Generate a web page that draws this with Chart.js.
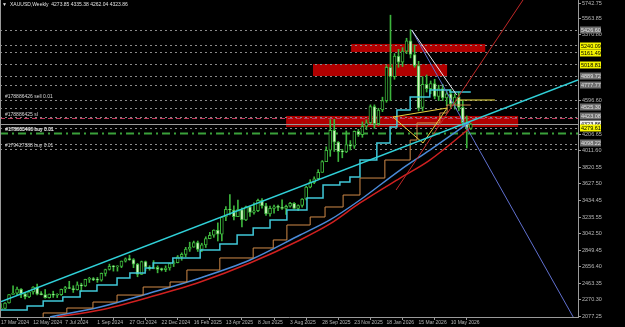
<!DOCTYPE html>
<html>
<head>
<meta charset="utf-8">
<script src="https://cdn.jsdelivr.net/npm/chart.js@4.4.1/dist/chart.umd.min.js"></script>
<style>
html, body { margin: 0; padding: 0; background: #000; }
#wrap { width: 625px; height: 327px; }
</style>
</head>
<body>
<div id="wrap"><canvas id="chart" width="625" height="327"></canvas></div>
<script>
// weekly candles, index 0 = 17 Mar 2024
const opens = [2155,2165,2230,2329,2344,2392,2337,2301,2360,2415,2334,2327,2293,2333,2321,2326,2391,2411,2400,2386,
  2443,2431,2507,2512,2503,2497,2577,2622,2658,2653,2657,2721,2747,2737,2685,2563,2716,2650,2633,2648,
  2622,2621,2640,2690,2703,2770,2799,2861,2883,2936,2858,2910,2984,3023,3084,3037,3237,3327,3319,3241,
  3325,3202,3357,3289,3310,3432,3368,3274,3337,3355,3350,3336,3363,3398,3336,3371,3448,3586,3643,3685,
  3760,3886,4018,4251,4113,4002,4000,4085,4065,4240,4200,4300,4340,4530,4330,4490,4600,4990,4880,5120,
  5050,5180,5300,5140,5010,4520,4790,4740,4800,4650,4740,4630,4680,4560,4640,4520,4340,4273.85];
const highs = [2223,2236,2330,2431,2417,2400,2353,2378,2422,2450,2364,2388,2335,2368,2339,2393,2424,2484,2432,2477,
  2462,2509,2531,2528,2529,2581,2626,2685,2670,2666,2722,2758,2790,2750,2693,2721,2721,2666,2726,2665,
  2639,2665,2697,2725,2786,2817,2882,2942,2955,2956,2930,3005,3057,3087,3168,3245,3358,3500,3368,3435,
  3345,3366,3365,3403,3446,3452,3398,3365,3375,3375,3438,3375,3409,3405,3378,3453,3600,3674,3707,3791,
  3897,4059,4379,4381,4120,4030,4245,4132,4245,4264,4350,4375,4550,4550,4510,4640,5010,5600,5150,5200,
  5220,5330,5430,5250,5060,4880,4900,4830,4850,4780,4790,4720,4730,4680,4700,4600,4420,4335.38];
const lows = [2146,2163,2228,2326,2324,2291,2277,2291,2334,2325,2325,2286,2287,2295,2293,2319,2352,2398,2353,2381,
  2364,2423,2470,2491,2471,2485,2546,2615,2603,2603,2643,2709,2730,2643,2537,2563,2605,2614,2630,2583,
  2605,2597,2614,2656,2699,2730,2772,2834,2882,2833,2832,2880,2982,2999,2956,2957,3193,3260,3202,3240,
  3120,3195,3245,3270,3300,3340,3255,3247,3282,3310,3325,3268,3352,3331,3311,3352,3436,3578,3627,3684,
  3760,3885,3947,4004,3886,3930,3990,4022,4040,4180,4170,4260,4330,4275,4310,4470,4580,4600,4850,4990,
  5000,5150,5100,4990,4480,4480,4700,4680,4620,4600,4600,4540,4520,4500,4480,4300,4045,4262.04];
const closes = [2165,2230,2329,2344,2392,2337,2301,2360,2415,2334,2327,2293,2333,2321,2326,2391,2411,2400,2386,2443,
  2431,2507,2512,2503,2497,2577,2622,2658,2653,2657,2721,2747,2737,2685,2563,2716,2650,2633,2648,2622,
  2621,2640,2690,2703,2770,2799,2861,2883,2936,2858,2910,2984,3023,3084,3037,3237,3327,3319,3241,3325,
  3202,3357,3289,3310,3432,3368,3274,3337,3355,3350,3336,3363,3398,3336,3371,3448,3586,3643,3685,3760,
  3886,4018,4251,4113,4002,4000,4085,4065,4240,4200,4300,4340,4530,4330,4490,4600,4990,4880,5120,5050,
  5180,5300,5140,5010,4510,4790,4740,4800,4650,4740,4630,4680,4560,4640,4520,4340,4274,4323.86];

// bottom axis
const dateTickWeeks = [0,8,16,24,32,40,48,56,64,72,80,88,96,104,112];
const dateTickLabels = ['17 Mar 2024','12 May 2024','7 Jul 2024','1 Sep 2024','27 Oct 2024','22 Dec 2024',
  '16 Feb 2025','13 Apr 2025','8 Jun 2025','3 Aug 2025','28 Sep 2025','23 Nov 2025','18 Jan 2026','15 Mar 2026','10 May 2026'];
// right axis
const priceTicks = [5742.75,5563.85,5370.80,4596.60,4206.65,4011.60,3820.55,3627.50,3434.45,3235.55,3042.50,
  2849.45,2656.40,2463.35,2270.30,2077.25];

// indicator step lines and moving averages
const cyanStepWeeks = [-0.25,6.5,10.5,15.4,19.7,23.9,28.9,32.1,35.9,37.9,42.8,49.6,54.5,58.8,62.8,67,71.2,76.2,80.2,84.4,86.9,89.4,93.6,96.9,98.6,101.9,106.8,111.8,113.8,117];
const cyanStepValues = [2078,2148,2195,2253,2300,2370,2441,2523,2581,2640,2698,2757,2850,2921,3026,3108,3202,3319,3459,3611,3647,3705,3904,4103,4290,4490,4642,4724,4700,4700];
const orangeStepWeeks = [10.5,16.4,22.9,28.9,35.4,42.1,46.3,54.5,62.8,67.8,71.2,77,80.7,85.2,89.4,95.6,101.9,103.6,109.3,111.1,115.6,117];
const orangeStepValues = [2066,2113,2171,2241,2323,2417,2476,2616,2757,2874,2968,3143,3237,3354,3494,3693,3904,4138,4338,4455,4548,4548];
const blueMaWeeks = [12.2,24.7,37.1,49.6,62,74.5,81.9,89.4,99.4,106.8,116.8];
const blueMaValues = [2066,2183,2347,2523,2733,3026,3202,3436,3787,4021,4350];
const redMaWeeks = [13.9,24.7,37.1,49.6,62,74.5,81.9,89.4,99.4,106.8,116.8];
const redMaValues = [2066,2148,2300,2476,2698,2968,3155,3401,3693,3904,4279];

// drawn objects
const cyanTrendWeeks = [-0.25, 143.7], cyanTrendPrices = [2241, 4841];
const redTrendWeeks = [98.4, 130], redTrendPrices = [3553, 5778];
const whiteTrendWeeks = [102.3, 113.5], whiteTrendPrices = [5426, 4665];
const slateTrendWeeks = [102.3, 142.5], slateTrendPrices = [5426, 2066];
const yellowTriWeeks = [97.6, 105.1, 111.1, 97.6], yellowTriPrices = [4408, 4103, 4513, 4408];
const yellowFlatWeeks = [113.8, 123], yellowFlatPrices = [4607, 4607];

const zoneStart = [87.2, 77.7, 71];
const zoneEnd = [120.6, 111.1, 128.8];
const zoneLow = [5169, 4888, 4291];
const zoneHigh = [5263, 5028, 4420];

const dottedLevels = [5426.6, 5251, 5169, 5028, 4888, 4782.5, 4606, 4513, 4410, 4279, 4092, 4033];
const slLevel = 4396, bidLevel = 4323.86, buyLevel = 4220;

const orderTexts = ['#178886426 sell 0.01', '#178886425 sl', '#178860460 buy 0.01', '#179427388 buy 0.01'];
const orderPrices = [4606, 4396, 4220, 4033];

const boxPrices = [5426.60, 5240.09, 5161.49, 5018.81, 4889.72, 4777.77, 4525.30, 4423.08, 4323.86, 4279.61, 4098.22];
const boxKinds = ['gray','yellow','yellow','yellow','gray','gray','gray','gray','white','yellow','gray'];

const titleText = 'XAUUSD,Weekly  4273.85 4335.38 4262.04 4323.86';

const pts = (w, p) => w.map((v, k) => ({ x: v, y: p[k] }));
const candleIdx = closes.map((c, i) => i);
const bull = i => closes[i] >= opens[i];
const FONT = "'Liberation Sans', Arial, sans-serif";

const overlay = {
    id: 'overlay',
    beforeDatasetsDraw(chart) {
        const { ctx, chartArea: a, scales: { x, y } } = chart;
        ctx.save();
        ctx.beginPath();
        ctx.rect(a.left, a.top, a.right - a.left, a.bottom - a.top);
        ctx.clip();

        ctx.fillStyle = '#b00000';
        zoneStart.forEach((s, k) => {
            const x0 = x.getPixelForValue(s), x1 = x.getPixelForValue(zoneEnd[k]);
            const y0 = y.getPixelForValue(zoneHigh[k]), y1 = y.getPixelForValue(zoneLow[k]);
            ctx.fillRect(x0, y0, x1 - x0, y1 - y0);
        });

        const hline = (p, color, width, dash) => {
            const py = Math.round(y.getPixelForValue(p)) + 0.5;
            ctx.strokeStyle = color;
            ctx.lineWidth = width;
            ctx.setLineDash(dash);
            ctx.beginPath();
            ctx.moveTo(a.left, py);
            ctx.lineTo(a.right, py);
            ctx.stroke();
        };
        dottedLevels.forEach(p => hline(p, '#8a8a8a', 1, [2, 3]));
        hline(slLevel, '#c0385a', 1, [5, 3]);
        hline(bidLevel, '#9a9a9a', 1, []);
        hline(buyLevel, '#3aa03a', 2, [8, 4, 2, 4]);
        ctx.setLineDash([]);

        ctx.font = '5px ' + FONT;
        ctx.fillStyle = '#d8d8d8';
        ctx.textBaseline = 'bottom';
        orderTexts.forEach((t, k) => {
            const py = y.getPixelForValue(orderPrices[k]);
            ctx.fillText(t, 5, py - 1);
        });
        // second order sitting on the same buy level
        ctx.fillText('#179605440 buy 0.01', 5.6, y.getPixelForValue(buyLevel) - 1);
        ctx.restore();
    },
    afterDraw(chart) {
        const { ctx, chartArea: a, scales: { y } } = chart;
        ctx.save();
        ctx.strokeStyle = '#9a9a9a';
        ctx.lineWidth = 1;
        ctx.beginPath();
        ctx.moveTo(0.5, a.top);
        ctx.lineTo(0.5, a.bottom);
        ctx.stroke();

        ctx.font = '5.5px ' + FONT;
        ctx.textBaseline = 'middle';
        boxPrices.forEach((p, k) => {
            const py = Math.round(y.getPixelForValue(p));
            const kind = boxKinds[k];
            ctx.fillStyle = kind === 'yellow' ? '#f4f400' : kind === 'white' ? '#f0f0f0' : '#6e6e6e';
            ctx.fillRect(a.right + 2, py - 3.5, 21, 7);
            ctx.fillStyle = kind === 'gray' ? '#e0e0e0' : '#000';
            ctx.fillText(p.toFixed(2), a.right + 3, py + 0.5);
        });

        ctx.fillStyle = '#e0e0e0';
        ctx.font = '5px ' + FONT;
        ctx.fillText('\u25BC', 2, 5);
        ctx.fillText(titleText, 10, 5);
        ctx.restore();
    }
};

const lineSet = (data, color, width, extra) => Object.assign({
    type: 'line', data: data, borderColor: color, borderWidth: width,
    pointRadius: 0, fill: false, order: 1
}, extra || {});

new Chart(document.getElementById('chart'), {
    type: 'bar',
    data: {
        datasets: [
            lineSet(pts(cyanTrendWeeks, cyanTrendPrices), '#30d0d8', 1.5),
            lineSet(pts(redTrendWeeks, redTrendPrices), '#c02828', 1),
            lineSet(pts(whiteTrendWeeks, whiteTrendPrices), '#e8e8f0', 1),
            lineSet(pts(slateTrendWeeks, slateTrendPrices), '#6070d0', 1),
            lineSet(pts(yellowTriWeeks, yellowTriPrices), '#e8d040', 1),
            lineSet(pts(yellowFlatWeeks, yellowFlatPrices), '#f0e040', 1),
            lineSet(pts(cyanStepWeeks, cyanStepValues), '#40c8d8', 1.5, { stepped: 'after' }),
            lineSet(pts(orangeStepWeeks, orangeStepValues), '#d08a48', 1, { stepped: 'after' }),
            lineSet(pts(blueMaWeeks, blueMaValues), '#4a8ad8', 1.5, { cubicInterpolationMode: 'monotone' }),
            lineSet(pts(redMaWeeks, redMaValues), '#d02020', 1.5, { cubicInterpolationMode: 'monotone' }),
            {
                label: 'bodies',
                data: candleIdx.map(i => ({ x: i, y: [opens[i], closes[i]] })),
                backgroundColor: ctx => bull(ctx.dataIndex) ? '#000' : '#d4f5c4',
                borderColor: '#3cb43c',
                borderWidth: 1,
                borderSkipped: false,
                barThickness: 3,
                minBarLength: 1,
                grouped: false,
                order: 3
            },
            {
                label: 'wicks',
                data: candleIdx.map(i => ({ x: i, y: [lows[i], highs[i]] })),
                backgroundColor: '#3cb43c',
                borderWidth: 0,
                barThickness: 1,
                grouped: false,
                order: 4
            }
        ]
    },
    options: {
        responsive: false,
        animation: false,
        layout: { padding: 0 },
        plugins: { legend: { display: false }, tooltip: { enabled: false } },
        scales: {
            x: {
                type: 'linear', min: -0.25, max: 143.7, offset: false,
                grid: { drawOnChartArea: false, color: '#9a9a9a', tickLength: 3 },
                border: { color: '#9a9a9a' },
                ticks: {
                    color: '#b8b8b8', font: { size: 5, family: FONT }, padding: 0,
                    align: 'start', maxRotation: 0, autoSkip: false,
                    callback: v => dateTickLabels[dateTickWeeks.indexOf(v)] || ''
                },
                afterBuildTicks: s => { s.ticks = dateTickWeeks.map(v => ({ value: v })); },
                afterFit: s => { s.height = 10; s.paddingLeft = 0; s.paddingRight = 0; }
            },
            y: {
                position: 'right', min: 2065.8, max: 5777.9,
                grid: { drawOnChartArea: false, color: '#9a9a9a', tickLength: 3 },
                border: { color: '#9a9a9a' },
                ticks: {
                    color: '#b8b8b8', font: { size: 5.5, family: FONT }, padding: 1,
                    autoSkip: false, callback: v => Number(v).toFixed(2)
                },
                afterBuildTicks: s => { s.ticks = priceTicks.map(v => ({ value: v })); },
                afterFit: s => { s.width = 47; s.paddingTop = 0; s.paddingBottom = 0; }
            }
        }
    },
    plugins: [overlay]
});
</script>
</body>
</html>
